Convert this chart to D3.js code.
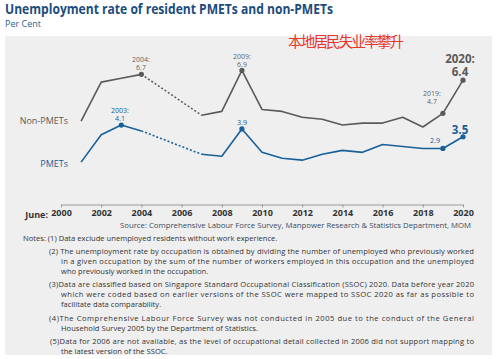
<!DOCTYPE html>
<html>
<head>
<meta charset="utf-8">
<script src="https://cdn.jsdelivr.net/npm/d3@7"></script>
<style>
  body { margin: 0; background: #fff; }
  svg { display: block; font-family: "Open Sans", "DejaVu Sans", sans-serif; }
</style>
</head>
<body>
<svg id="chart" width="500" height="359"></svg>
<script>
// years with data (no 2005 / 2006)
var years = [2001, 2002, 2003, 2004, 2007, 2008, 2009, 2010, 2011, 2012, 2013, 2014, 2015, 2016, 2017, 2018, 2019, 2020];
var nonPmets = [4.3, 6.3, 6.5, 6.7, 4.6, 4.8, 6.9, 4.9, 4.8, 4.5, 4.4, 4.1, 4.2, 4.2, 4.5, 4.0, 4.7, 6.4];
var pmets = [2.2, 3.6, 4.1, 3.8, 2.6, 2.5, 3.9, 2.7, 2.4, 2.3, 2.6, 2.8, 2.7, 3.1, 3.0, 2.9, 2.9, 3.5];
var tickYears = [2000, 2002, 2004, 2006, 2008, 2010, 2012, 2014, 2016, 2018, 2020];
var gapYears = [2004, 2007]; // dashed bridge over the missing years

var notes = [
  { x: 23, t: 'Notes: (1) Data exclude unemployed residents without work experience.', j: false },
  { x: 49, t: '(2) The unemployment rate by occupation is obtained by dividing the number of unemployed who previously worked', j: true },
  { x: 61, t: 'in a given occupation by the sum of the number of workers employed in this occupation and the unemployed', j: true },
  { x: 61, t: 'who previously worked in the occupation.', j: false },
  { x: 49, t: '(3)Data are classified based on Singapore Standard Occupational Classification (SSOC) 2020. Data before year 2020', j: true },
  { x: 61, t: 'which were coded based on earlier versions of the SSOC were mapped to SSOC 2020 as far as possible to', j: true },
  { x: 61, t: 'facilitate data comparability.', j: false },
  { x: 49, t: '(4)The Comprehensive Labour Force Survey was not conducted in 2005 due to the conduct of the General', j: true },
  { x: 61, t: 'Household Survey 2005 by the Department of Statistics.', j: false },
  { x: 50, t: '(5)Data for 2006 are not available, as the level of occupational detail collected in 2006 did not support mapping to', j: true },
  { x: 61, t: 'the latest version of the SSOC.', j: false }
];
var noteY = [241, 253.5, 263.5, 273.5, 287, 297, 307, 320.5, 330.5, 344, 354];

var grey = '#5a5a5a', blue = '#17609a';

var svg = d3.select('#chart');

// grey panel
svg.append('rect').attr('x', 5).attr('y', 36).attr('width', 487).attr('height', 319).attr('fill', '#efefef');

// title
svg.append('text').attr('x', 5).attr('y', 14).attr('font-size', 13.5).attr('font-weight', 'bold')
  .attr('fill', '#1b4c7c').attr('textLength', 328).attr('lengthAdjust', 'spacingAndGlyphs')
  .text('Unemployment rate of resident PMETs and non-PMETs');
svg.append('text').attr('x', 5).attr('y', 26.5).attr('font-size', 9).attr('fill', '#2a5f8f').text('Per Cent');

svg.append('text').attr('x', 288).attr('y', 46.5).attr('font-size', 14.5)
  .attr('font-family', '"Noto Sans CJK SC", sans-serif').attr('fill', '#e8372c')
  .attr('textLength', 116).text('本地居民失业率攀升');

var x = d3.scaleLinear().domain([2000, 2020]).range([61, 463]);
var y = d3.scaleLinear().domain([0, 7]).range([205, 68.5]);

// x axis
var axis = svg.append('g').attr('transform', 'translate(0,204.5)')
  .call(d3.axisBottom(x).tickValues(tickYears).tickFormat(d3.format('d')).tickSize(3).tickSizeOuter(0).tickPadding(2));
axis.select('.domain').attr('stroke', '#999');
axis.selectAll('.tick line').attr('stroke', '#999');
axis.selectAll('.tick text').attr('font-size', 9).attr('font-weight', 'bold').attr('fill', '#333')
  .attr('font-family', '"Open Sans", sans-serif');
svg.append('text').attr('x', 48).attr('y', 218).attr('text-anchor', 'end').attr('font-size', 9)
  .attr('font-weight', 'bold').attr('fill', '#333').text('June:');

svg.append('text').attr('x', 471).attr('y', 227.5).attr('text-anchor', 'end').attr('font-size', 8)
  .attr('fill', '#3b4b5c').attr('textLength', 351).attr('lengthAdjust', 'spacingAndGlyphs')
  .text('Source: Comprehensive Labour Force Survey, Manpower Research & Statistics Department, MOM');

// series
function drawSeries(vals, color) {
  var pts = years.map(function (yr, i) { return { year: yr, v: vals[i] }; });
  var line = d3.line().x(function (d) { return x(d.year); }).y(function (d) { return y(d.v); });
  var before = pts.filter(function (d) { return d.year <= gapYears[0]; });
  var gap = pts.filter(function (d) { return d.year >= gapYears[0] && d.year <= gapYears[1]; });
  var after = pts.filter(function (d) { return d.year >= gapYears[1]; });
  [before, after].forEach(function (seg) {
    svg.append('path').datum(seg).attr('d', line).attr('fill', 'none')
      .attr('stroke', color).attr('stroke-width', 1.6).attr('stroke-linejoin', 'round');
  });
  svg.append('path').datum(gap).attr('d', line).attr('fill', 'none')
    .attr('stroke', color).attr('stroke-width', 1.6).attr('stroke-dasharray', '2,2');
  return pts;
}
var np = drawSeries(nonPmets, grey);
var pp = drawSeries(pmets, blue);

function dot(pts, yr, color) {
  var d = pts.find(function (p) { return p.year === yr; });
  svg.append('circle').attr('cx', x(d.year)).attr('cy', y(d.v)).attr('r', 2.6).attr('fill', color);
}
[2004, 2009, 2019, 2020].forEach(function (yr) { dot(np, yr, grey); });
[2003, 2009, 2019, 2020].forEach(function (yr) { dot(pp, yr, blue); });

// series labels
svg.append('text').attr('x', 68).attr('y', 124).attr('text-anchor', 'end').attr('font-size', 9).attr('fill', grey).text('Non-PMETs');
svg.append('text').attr('x', 68).attr('y', 166.5).attr('text-anchor', 'end').attr('font-size', 9).attr('fill', blue).text('PMETs');

// annotations: one text element per label, lines as tspans
function note(cx, cy, lines, color, size, bold, gap) {
  var t = svg.append('text').attr('x', cx).attr('y', cy).attr('text-anchor', 'middle')
    .attr('font-size', size).attr('font-weight', bold ? 'bold' : 'normal').attr('fill', color);
  lines.forEach(function (l, i) {
    t.append('tspan').attr('x', cx).attr('dy', i === 0 ? 0 : gap).text(l);
  });
}
note(141, 61.5, ['2004:', '6.7'], '#666', 7, false, 8.6);
note(242, 58.5, ['2009:', '6.9'], '#666', 7, false, 8.6);
note(120, 112.5, ['2003:', '4.1'], blue, 7, false, 8.6);
note(242, 125, ['3.9'], blue, 7.2);
note(432, 95.5, ['2019:', '4.7'], '#666', 7, false, 8.6);
note(435, 142.5, ['2.9'], blue, 7.2);
note(460, 62.5, ['2020:', '6.4'], grey, 11.5, true, 13.7);
note(460, 133.5, ['3.5'], blue, 11.5, true);

// notes block
svg.append('g').selectAll('text').data(notes).enter().append('text')
  .attr('x', function (d) { return d.x; })
  .attr('y', function (d, i) { return noteY[i]; })
  .attr('font-size', 7.6).attr('fill', '#333')
  .each(function (d) {
    if (d.j) d3.select(this).attr('textLength', 474 - d.x).attr('lengthAdjust', 'spacing');
  })
  .text(function (d) { return d.t; });
</script>
</body>
</html>
